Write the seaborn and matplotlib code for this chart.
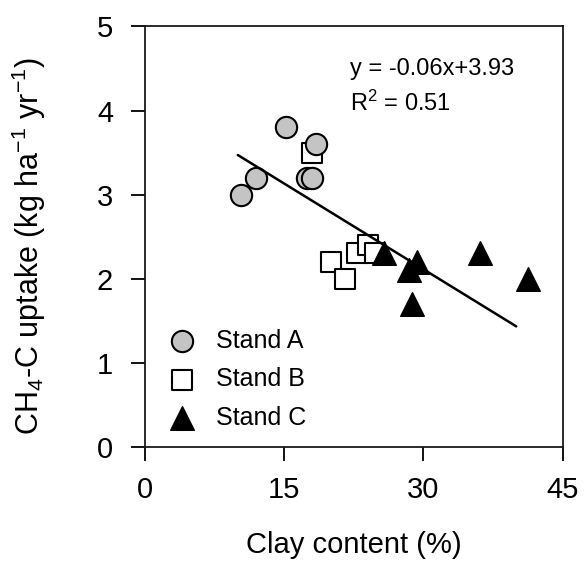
import numpy as np
import pandas as pd
import matplotlib
matplotlib.use('Agg')
import matplotlib.pyplot as plt
import seaborn as sns

# Values
stand_a_clay = [10.3, 12.0, 15.2, 17.5, 18.0, 18.4]
stand_a_ch4 = [3.0, 3.2, 3.8, 3.2, 3.2, 3.6]
stand_b_clay = [18.0, 20.0, 21.6, 22.8, 24.0, 24.8]
stand_b_ch4 = [3.5, 2.2, 2.0, 2.3, 2.4, 2.3]
stand_c_clay = [25.7, 28.4, 29.3, 28.8, 36.1, 41.3]
stand_c_ch4 = [2.3, 2.1, 2.2, 1.7, 2.3, 2.0]

# fitted line as drawn in the figure (end points)
fit_clay = [10.0, 40.0]
fit_ch4 = [3.47, 1.43]

x_ticks = [0, 15, 30, 45]
y_ticks = [0, 1, 2, 3, 4, 5]
eq_text = 'y = -0.06x+3.93'
r2_text = 'R$^2$ = 0.51'

sns.set_style('ticks')
plt.rcParams['font.family'] = ['Liberation Sans', 'DejaVu Sans']
plt.rcParams['mathtext.fontset'] = 'custom'
plt.rcParams['mathtext.rm'] = 'Liberation Sans'
plt.rcParams['mathtext.it'] = 'Liberation Sans:italic'
plt.rcParams['mathtext.bf'] = 'Liberation Sans:bold'
plt.rcParams['text.color'] = 'black'
plt.rcParams['axes.labelcolor'] = 'black'
plt.rcParams['xtick.color'] = 'black'
plt.rcParams['ytick.color'] = 'black'

df = pd.DataFrame({
    'clay': stand_a_clay + stand_b_clay + stand_c_clay,
    'ch4': stand_a_ch4 + stand_b_ch4 + stand_c_ch4,
    'stand': ['Stand A'] * 6 + ['Stand B'] * 6 + ['Stand C'] * 6,
})

fig = plt.figure(figsize=(5.84, 5.65), dpi=100)
ax = fig.add_axes([0.2483, 0.2097, 0.7152, 0.7434])

# squares first, circles over them, triangles on top
sns.scatterplot(data=df[df.stand == 'Stand B'], x='clay', y='ch4', marker='s', s=215,
                color='white', edgecolor='black', linewidth=1.5, label='Stand B', ax=ax, zorder=3)
sns.scatterplot(data=df[df.stand == 'Stand A'], x='clay', y='ch4', marker='o', s=235,
                color='#c4c4c4', edgecolor='black', linewidth=1.5, label='Stand A', ax=ax, zorder=4)
sns.scatterplot(data=df[df.stand == 'Stand C'], x='clay', y='ch4', marker='^', s=290,
                color='black', edgecolor='black', linewidth=1.0, label='Stand C', ax=ax, zorder=5)

sns.lineplot(x=fit_clay, y=fit_ch4, color='black', linewidth=1.8, ax=ax, zorder=6)

ax.set_xlim(0, 45)
ax.set_ylim(0, 5)
ax.set_xticks(x_ticks)
ax.set_yticks(y_ticks)
ax.tick_params(axis='both', direction='out', length=10, width=1.3, labelsize=21)
ax.tick_params(axis='x', pad=11)
ax.tick_params(axis='y', pad=13)
for sp in ax.spines.values():
    sp.set_linewidth(1.3)
    sp.set_color('#1a1a1a')

ax.set_xlabel('Clay content (%)', fontsize=21)
ax.set_ylabel('CH$_4$-C uptake (kg ha$^{-1}$ yr$^{-1}$)', fontsize=22)
ax.xaxis.set_label_coords(0.5, -0.2)
ax.yaxis.set_label_coords(-0.232, 0.477)

ax.text(0.49, 0.885, eq_text, transform=ax.transAxes, fontsize=17, ha='left', va='baseline')
ax.text(0.49, 0.80, r2_text, transform=ax.transAxes, fontsize=17, ha='left', va='baseline')

handles, labels = ax.get_legend_handles_labels()
order = [labels.index(n) for n in ['Stand A', 'Stand B', 'Stand C']]
ax.legend([handles[i] for i in order], [labels[i] for i in order], loc='lower left',
          bbox_to_anchor=(-0.013, -0.002), frameon=False, fontsize=18, handletextpad=0.35,
          labelspacing=0.58, borderaxespad=0.3)

fig.savefig('out.png', dpi=100)
